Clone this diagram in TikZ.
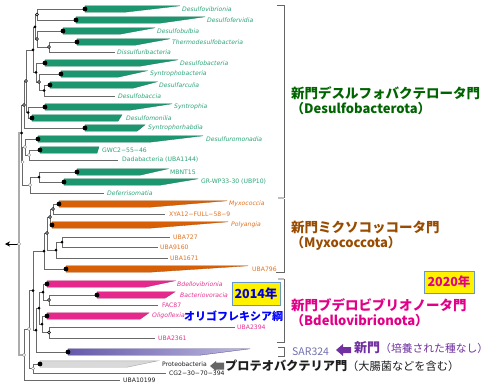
\documentclass[tikz,border=0pt]{standalone}
\usepackage{fontspec}
\setmainfont{DejaVu Sans}
\newfontfamily\jp{Noto Sans CJK JP}
\usetikzlibrary{arrows.meta}
\definecolor{gw}{RGB}{27,150,110}
\definecolor{gt}{RGB}{45,165,120}
\definecolor{ow}{RGB}{215,95,5}
\definecolor{ot}{RGB}{225,115,35}
\definecolor{pw}{RGB}{230,40,140}
\definecolor{pt}{RGB}{230,50,145}
\definecolor{vw}{RGB}{100,90,170}
\definecolor{vwl}{RGB}{190,185,225}
\definecolor{treec}{RGB}{105,105,105}
\definecolor{dgreen}{RGB}{0,100,0}
\definecolor{brownlab}{RGB}{153,76,0}
\definecolor{magl}{RGB}{225,0,135}
\definecolor{purp}{RGB}{112,48,160}
\definecolor{sar}{RGB}{112,112,176}
\definecolor{boxblue}{RGB}{100,150,210}
\definecolor{darkt}{RGB}{30,30,30}
\newcommand\cladewedge[6]{%
  \path[#6] (#3,#2-3.2) -- (#4,#2-3.2) -- (#5,#2+3.2) -- (#3,#2+3.2) -- cycle;
  \coordinate (#1) at (#3,#2);}
\tikzset{
  br/.style={draw=treec, line width=0.6pt},
  rootbr/.style={draw=gray!65, line width=1.3pt},
  brk/.style={draw=gray!80!black, line width=0.8pt},
  brkl/.style={draw=gray!50, line width=2pt},
  nb/.style={circle, fill=black, inner sep=0pt, minimum size=3pt},
  nh/.style={circle, draw=black, fill=gray!30, line width=0.4pt, inner sep=0pt, minimum size=3pt},
  nw/.style={circle, draw=gray, fill=white, line width=0.4pt, inner sep=0pt, minimum size=3.3pt},
  dotn/.style={circle, fill=black, inner sep=0pt, minimum size=4.8pt},
  gwed/.style={fill=gw, draw=gw!80!black, line width=0.3pt},
  owed/.style={fill=ow, draw=ow!80!black, line width=0.3pt},
  pwed/.style={fill=pw, draw=pw!80!black, line width=0.3pt},
  vwed/.style={left color=vw, right color=vwl, draw=vw!80!black, line width=0.3pt},
  ywed/.style={fill=gray!30, draw=gray!70, line width=0.4pt},
  lab/.style={anchor=west, inner sep=0pt, font=\fontsize{6.1}{7}\selectfont},
  jpb/.style={anchor=west, inner sep=0pt, font=\jp\bfseries\fontsize{13.5}{15}\selectfont},
  jpl/.style={anchor=west, inner sep=0pt, font=\jp\bfseries\fontsize{13}{15}\selectfont},
  yearbox/.style={draw=boxblue, fill=yellow, line width=0.8pt, inner sep=0pt, font=\jp\bfseries\fontsize{12.5}{14}\selectfont},
}
\begin{document}
\begin{tikzpicture}[x=1pt,y=-1pt]
\useasboundingbox (0,0) rectangle (500,385);
\fill[white] (0,0) rectangle (500,385);
% wedges
\cladewedge{L1}{9}{85}{180}{125}{gwed}
\cladewedge{L2}{20}{76}{205}{160}{gwed}
\cladewedge{L3}{31}{63}{155}{120}{gwed}
\cladewedge{L4}{42}{77}{170}{135}{gwed}
\coordinate (L5) at (115,52);
\cladewedge{L6}{63}{45}{178}{140}{gwed}
\cladewedge{L7}{74}{61}{147}{118}{gwed}
\cladewedge{L8}{85}{50}{157}{133}{gwed}
\coordinate (L9) at (115,96);
\cladewedge{L10}{107}{45}{172}{130}{gwed}
\cladewedge{L11}{118}{32}{122}{118}{gwed}
\cladewedge{L12}{128}{85}{145}{137}{gwed}
\cladewedge{L13}{139}{38}{203}{150}{gwed}
\cladewedge{L14}{150}{40}{99}{97}{gwed}
\coordinate (L15) at (118,160);
\cladewedge{L16}{172}{77}{168}{140}{gwed}
\cladewedge{L17}{182}{64}{198}{160}{gwed}
\coordinate (L18) at (104,193);
\cladewedge{L19}{204}{59}{227}{150}{owed}
\coordinate (L20) at (165,214);
\cladewedge{L21}{225}{52}{228}{150}{owed}
\coordinate (L22) at (170,237);
\coordinate (L23) at (158,247);
\coordinate (L24) at (168,258);
\cladewedge{L25}{269}{66}{248}{150}{owed}
\cladewedge{L26}{284}{47}{175}{145}{pwed}
\cladewedge{L27}{295}{97}{175}{165}{pwed}
\coordinate (L28) at (158,305);
\cladewedge{L29}{316}{47}{149}{140}{pwed}
\coordinate (L30) at (235,327);
\coordinate (L31) at (155,338);
\cladewedge{L32}{352}{68}{250}{200}{vwed}
\cladewedge{L33}{364}{40}{158}{127}{ywed}
\coordinate (L34) at (166,373);
\coordinate (L35) at (120,380);
% internal nodes
\coordinate (a12) at (37,14.5);
\coordinate (a45) at (49,47);
\coordinate (a345) at (37,39);
\coordinate (a15) at (35,27);
\coordinate (a89) at (44,90.5);
\coordinate (a79) at (39,82);
\coordinate (a69) at (36,72.5);
\coordinate (a19) at (33,50);
\coordinate (a1011) at (28,112.5);
\coordinate (a111) at (26,81);
\coordinate (a112) at (24,105);
\coordinate (a1415) at (29,155);
\coordinate (a1315) at (25,147);
\coordinate (a1617) at (39,177);
\coordinate (a1618) at (30,185);
\coordinate (a1318) at (22.5,162);
\coordinate (D) at (21.5,133);
\coordinate (m1) at (53,209);
\coordinate (m2) at (50,217);
\coordinate (m6) at (62,242);
\coordinate (m4) at (56,250);
\coordinate (m3) at (47,233);
\coordinate (m5) at (44,251);
\coordinate (b1) at (49,300);
\coordinate (b2) at (43,292);
\coordinate (b3) at (49,332.5);
\coordinate (b4) at (42,324);
\coordinate (b5) at (39,308);
\coordinate (b6) at (36,330);
\coordinate (b7) at (33,290.5);
\coordinate (p1) at (33,368.5);
\coordinate (c1) at (29,329);
\coordinate (c2) at (24,355);
\coordinate (root) at (19,244);
\coordinate (rootend) at (5,244);
% branches
\draw[rootbr] (root) |- (D);
\draw[rootbr] (root) |- (c2);
\foreach \p/\c in {a12/L1, a12/L2, a45/L4, a45/L5, a345/L3, a345/a45, a15/a12, a15/a345,
  a89/L8, a89/L9, a79/L7, a79/a89, a69/L6, a69/a79, a19/a15, a19/a69, a1011/L10, a1011/L11,
  a111/a19, a111/a1011, a112/a111, a112/L12, a1415/L14, a1415/L15, a1315/L13, a1315/a1415,
  a1617/L16, a1617/L17, a1618/a1617, a1618/L18, a1318/a1315, a1318/a1618, D/a112, D/a1318,
  m1/L19, m1/L20, m2/m1, m2/L21, m6/L22, m6/L23, m4/m6, m4/L24, m3/m2, m3/m4, m5/m3, m5/L25,
  b1/L27, b1/L28, b2/L26, b2/b1, b3/L30, b3/L31, b4/L29, b4/b3, b5/b2, b5/b4, b6/b5, b6/L32,
  b7/m5, b7/b6, p1/L33, p1/L34, c1/b7, c1/p1, c2/c1, c2/L35}
  \draw[br] (\p) |- (\c);
\draw[draw=black, line width=0.7pt, -{Stealth[length=5pt,width=5pt]}] (root) -- (rootend);
% node markers
\foreach \n in {a15,a19,a69,a89,a1011,a1617,m4,m5,m6,b7,b2,b5,b4,b6,D}
  \node[nb] (mk-\n) at (\n) {};
\foreach \n in {a12,a345,a45,a79,a111,a112,m1,m2,m3,b1,b3}
  \node[nh] (mk-\n) at (\n) {};
\foreach \n in {a1315,a1415,a1318,a1618,root,c1,c2,p1}
  \node[nw] (mk-\n) at (\n) {};
\foreach \n in {L1,L2,L3,L4,L6,L7,L8,L10,L11,L12,L13,L14,L16,L17,L19,L21,L25,L26,L27,L29,L32,L33}
  \node[dotn] (dt-\n) at (\n) {};
% leaf labels
\node[lab, text=gt] (t1) at (182,9) {\itshape Desulfovibrionia};
\node[lab, text=gt] (t2) at (207,20) {\itshape Desulfofervidia};
\node[lab, text=gt] (t3) at (157,31) {\itshape Desulfobulbia};
\node[lab, text=gt] (t4) at (172,42) {\itshape Thermodesulfobacteria};
\node[lab, text=gt] (t5) at (117,52) {\itshape Dissulfuribacteria};
\node[lab, text=gt] (t6) at (180,63) {\itshape Desulfobacteria};
\node[lab, text=gt] (t7) at (150,74) {\itshape Syntrophobacteria};
\node[lab, text=gt] (t8) at (159,85) {\itshape Desulfarculia};
\node[lab, text=gt] (t9) at (118,96) {\itshape Desulfobaccia};
\node[lab, text=gt] (t10) at (174,107) {\itshape Syntrophia};
\node[lab, text=gt] (t11) at (126,118) {\itshape Desulfomonilia};
\node[lab, text=gt] (t12) at (148,128) {\itshape Syntrophorhabdia};
\node[lab, text=gt] (t13) at (206,139) {\itshape Desulfuromonadia};
\node[lab, text=gt] (t14) at (102,150) {GWC2−55−46};
\node[lab, text=gt] (t15) at (122,160) {Dadabacteria (UBA1144)};
\node[lab, text=gt] (t16) at (170,172) {MBNT15};
\node[lab, text=gt] (t17) at (201,182) {GR-WP33-30 (UBP10)};
\node[lab, text=gt] (t18) at (107,193) {\itshape Deferrisomatia};
\node[lab, text=ot] (t19) at (229,204) {\itshape Myxococcia};
\node[lab, text=ot] (t20) at (169,214) {XYA12−FULL−58−9};
\node[lab, text=ot] (t21) at (231,225) {\itshape Polyangia};
\node[lab, text=ot] (t22) at (173,237) {UBA727};
\node[lab, text=ot] (t23) at (160,247) {UBA9160};
\node[lab, text=ot] (t24) at (170,258) {UBA1671};
\node[lab, text=ot] (t25) at (252,269) {UBA796};
\node[lab, text=pt] (t26) at (177,284) {\itshape Bdellovibrionia};
\node[lab, text=pt] (t27) at (180,295) {\itshape Bacteriovoracia};
\node[lab, text=pt] (t28) at (162,305) {FAC87};
\node[lab, text=pt] (t29) at (152,316) {\itshape Oligoflexia};
\node[lab, text=pt] (t30) at (237,327) {UBA2394};
\node[lab, text=pt] (t31) at (158,338) {UBA2361};
\node[lab, text=darkt] (t33) at (162,364) {Proteobacteria};
\node[lab, text=darkt] (t34) at (169,373) {CG2−30−70−394};
\node[lab, text=darkt] (t35) at (123,380) {UBA10199};
% brackets
\draw[brkl] (278,198) -- (284,198);
\draw[brkl] (278,279) -- (284,279);
\draw[brk] (277,5) -- (284,5) -- (284,198);
\draw[brk] (284,199) -- (284,272) -- (276,272);
\draw[brk] (284,279) -- (284,342) -- (277,342);
\draw[brk] (278,347) -- (284,347) -- (284,356) -- (278,356);
% group labels
\node[jpb, text=dgreen] (g1) at (291,93) {新門デスルフォバクテロータ門};
\node[jpl, text=dgreen] (g1b) at (291,109) {（Desulfobacterota）};
\node[jpb, text=brownlab] (g2) at (291,227) {新門ミクソコッコータ門};
\node[jpl, text=brownlab] (g2b) at (291,243) {（Myxococcota）};
\node[jpb, text=magl] (g3) at (291,305) {新門ブデロビブリオノータ門};
\node[jpl, text=magl] (g3b) at (291,321) {（Bdellovibrionota）};
\node[yearbox, text=magl, minimum width=50pt, minimum height=22pt] (y2020) at (449,282) {2020年};
\node[yearbox, text=blue!85!black, minimum width=48pt, minimum height=23pt] (y2014) at (256,293.5) {2014年};
\node[anchor=west, inner sep=0pt, text=blue, font=\jp\bfseries\fontsize{11}{13}\selectfont] (oli) at (184,316) {オリゴフレキシア綱};
% SAR324
\node[anchor=west, inner sep=0pt, text=sar, font=\jp\fontsize{10.5}{12}\selectfont] (sar) at (292,352) {SAR324};
\fill[purp] (336,350) -- (343,344) -- (343,347) -- (351,347) -- (351,353) -- (343,353) -- (343,356) -- cycle;
\node[anchor=west, inner sep=0pt, text=purp] (newp) at (354,348) {{\jp\bfseries\fontsize{13}{15}\selectfont 新門}{\jp\fontsize{10.8}{12}\selectfont （培養された種なし）}};
% Proteobacteria
\fill[gray!80!black] (210,366) -- (216,361) -- (216,362.5) -- (224,362.5) -- (224,369.5) -- (216,369.5) -- (216,371) -- cycle;
\node[anchor=west, inner sep=0pt, text=darkt] (prot) at (225,366) {{\jp\bfseries\fontsize{12.2}{14}\selectfont プロテオバクテリア門}{\jp\fontsize{11.2}{12}\selectfont （大腸菌などを含む）}};
\end{tikzpicture}
\end{document}
